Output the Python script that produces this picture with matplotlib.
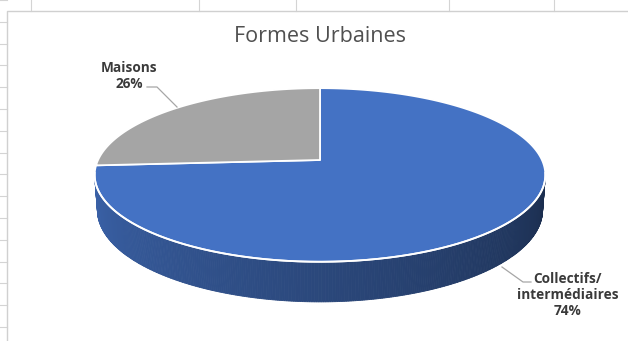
# Excel-style 3D pie: "Formes Urbaines"
import numpy as np
import matplotlib.pyplot as plt
from matplotlib.patches import Polygon
from matplotlib.colors import to_rgb

# --------------------------- DATA ---------------------------
labels = ['Collectifs/\nintermédiaires', 'Maisons']
values = [74, 26]
colors = ['#4472C4', '#A5A5A5']
title = 'Formes Urbaines'

# --------------------------- LAYOUT ---------------------------
W, H = 628, 341
cx, cy = 320, 160            # [px] screen position of the pie centre
f, d0 = 1192.0, 5.37         # perspective focal length / camera distance
elev = np.radians(22.3)      # camera elevation
thick = 0.17                 # pie thickness (in radius units)
s, c = np.sin(elev), np.cos(elev)


def proj(t, y):
    # Project a point on the pie (angle t [deg], height y) to pixels.
    tr = np.radians(t)
    x, z = np.cos(tr), np.sin(tr)
    D = d0 + z * c - y * s
    up = z * s + y * c
    return cx + f * x / D, cy - f * up / D


fig = plt.figure(figsize=(W / 100, H / 100), dpi=100)
ax = fig.add_axes([0, 0, 1, 1])
ax.set_xlim(0, W)
ax.set_ylim(H, 0)
ax.axis('off')

# Spreadsheet grid behind the chart.
grid = '#d4d4d4'
for gx in [31, 199, 296, 449, 554]:
    ax.plot([gx, gx], [0, 11], color=grid, lw=0.8)
for gy in np.arange(0, H, 21.8):
    ax.plot([0, 7], [gy, gy], color=grid, lw=0.8)
ax.plot([7, 7, W], [H, 11, 11], color='#d0d0d0', lw=1.0)

# Slice angles: start at 12 o'clock, go clockwise seen from above.
fracs = np.array(values) / np.sum(values)
ends = 90 - 360 * np.cumsum(fracs)
starts = np.concatenate([[90], ends[:-1]])

# Visible range of the outer wall.
t_vis_lo = 180 + np.degrees(np.arcsin(1 / (d0 * c)))
t_vis_hi = 360 - np.degrees(np.arcsin(1 / (d0 * c)))

# --------------------------- SIDE WALL ---------------------------
for t0, t1, col in zip(starts, ends, colors):
    # the slice covers angles from t1 up to t0
    segs = []
    for k in range(-1, 2):
        lo, hi = max(t1, t_vis_lo - 360 * k), min(t0, t_vis_hi - 360 * k)
        if hi > lo:
            segs.append((lo + 360 * k, hi + 360 * k))
    base = np.array(to_rgb(col))
    for lo, hi in segs:
        n = max(int((hi - lo) * 2), 2)
        tt = np.linspace(lo, hi, n + 1)
        for i in range(n):
            ts = np.linspace(tt[i], tt[i + 1], 4)
            ux, vy = proj(ts, 0)
            bx, by = proj(ts[::-1], -thick)
            tm = 0.5 * (tt[i] + tt[i + 1])
            frac = (tm - t_vis_lo) / (t_vis_hi - t_vis_lo)
            fc = base * (0.86 - 0.46 * frac)
            ax.add_patch(Polygon(np.column_stack([np.r_[ux, bx], np.r_[vy, by]]),
                                 closed=True, fc=fc, ec=fc, lw=0.6))

# --------------------------- TOP FACE ---------------------------
for t0, t1, col in zip(starts, ends, colors):
    ts = np.linspace(t0, t1, 200)
    ux, vy = proj(ts, 0)
    pts = np.column_stack([np.r_[cx, ux], np.r_[cy, vy]])
    ax.add_patch(Polygon(pts, closed=True, fc=col, ec='white', lw=1.3, joinstyle='round'))

# white highlight along the front edge of the top face
ts = np.linspace(t_vis_lo - 3, t_vis_hi + 3, 200)
ux, vy = proj(ts, 0)
ax.plot(ux, vy, color='white', lw=1.3)

# --------------------------- TEXT ---------------------------
ax.text(320, 37, title, ha='center', va='center', fontsize=15.5,
        family='Open Sans', color='#505050')

lab_col = '#3a3a3a'
ax.text(129, 76, f'{labels[1]}\n{values[1]}%', ha='center', va='center',
        fontsize=9.8, fontweight='bold', family='Open Sans', color=lab_col,
        linespacing=1.15)
ax.plot([147, 157, 177], [87, 87, 107], color='#a6a6a6', lw=0.9)

ax.text(568, 295, f'{labels[0]}\n{values[0]}%', ha='center', va='center',
        fontsize=9.8, fontweight='bold', family='Open Sans', color=lab_col,
        linespacing=1.15)
ax.plot([502, 523, 531], [267, 282, 282], color='#a6a6a6', lw=0.9)

fig.savefig('out.png', dpi=100, facecolor='white')
